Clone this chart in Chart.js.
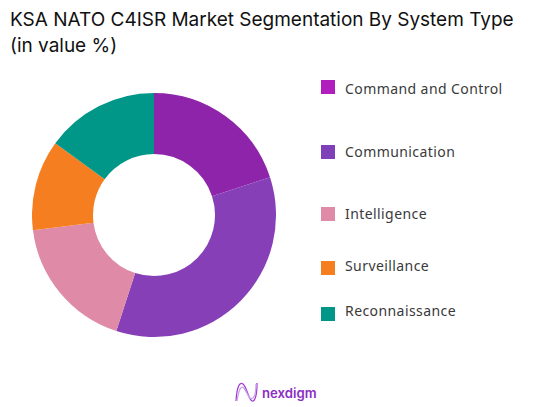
<!DOCTYPE html>
<html>
<head>
<meta charset="utf-8">
<script src="https://cdn.jsdelivr.net/npm/chart.js@4"></script>
<style>
html, body { margin: 0; padding: 0; background: #fff; }
body { position: relative; width: 547px; height: 407px; overflow: hidden; }
#title { position: absolute; left: 10px; top: 7px; font: 400 19px/26px Inter, sans-serif; color: #111; white-space: nowrap; letter-spacing: -0.01px; }
#wrap { position: absolute; left: 32px; top: 93px; width: 244px; height: 244px; }
.row { position: absolute; left: 345px; font: 400 14px/18px "Noto Sans", sans-serif; color: #3a3a3a; white-space: nowrap; letter-spacing: 0.42px; }
.box { position: absolute; left: 321px; width: 14px; height: 14px; }
#logo { position: absolute; left: 234px; top: 381px; }
#brand { position: absolute; left: 262px; top: 383px; font: 600 13.2px/20px Inter, sans-serif; color: #8b2fc4; }
</style>
</head>
<body>
<div id="title">KSA NATO C4ISR Market Segmentation By System Type<br>(in value %)</div>
<div id="wrap"><canvas id="chart-share"></canvas></div>
<div id="legend"></div>
<svg id="logo" width="26" height="22" viewBox="0 0 26 22" fill="none" stroke-width="1.3">
  <path d="M2 20 C3 4 6 1 9 3 C13 6 14 18 18 20 C21 21 23 14 23 2" stroke="#a23bd6"/>
  <path d="M3 20 C5 8 7 4 10 7 C13 11 15 20 19 17 C21 15 22 8 22 3" stroke="#c9a6e6"/>
</svg>
<div id="brand">nexdigm</div>
<script>
var categories = ['Command and Control', 'Communication', 'Intelligence', 'Surveillance', 'Reconnaissance'];
var shares = [20, 35, 18, 12, 15];
var sliceColors = ['#8E24AA', '#873FB8', '#DF8AA6', '#F57F20', '#009688'];
var boxColors = ['#B01FBE', '#7F3FB8', '#DF8AA6', '#F57F20', '#009688'];
var rowTops = [80, 143, 205, 257, 302];
var boxTops = [80, 145, 207, 261, 307];

var legend = document.getElementById('legend');
categories.forEach(function (name, i) {
    var box = document.createElement('div');
    box.className = 'box';
    box.style.top = boxTops[i] + 'px';
    box.style.background = boxColors[i];
    legend.appendChild(box);
    var row = document.createElement('div');
    row.className = 'row';
    row.style.top = rowTops[i] + 'px';
    row.textContent = name;
    legend.appendChild(row);
});

var ctx = document.getElementById('chart-share').getContext('2d');
new Chart(ctx, {
    type: 'doughnut',
    data: {
        labels: categories,
        datasets: [{
            data: shares,
            backgroundColor: sliceColors,
            borderWidth: 0
        }]
    },
    options: {
        responsive: true,
        maintainAspectRatio: false,
        animation: false,
        cutout: '50%',
        layout: { padding: 0 },
        plugins: {
            legend: { display: false },
            tooltip: { enabled: false }
        }
    }
});
</script>
</body>
</html>
